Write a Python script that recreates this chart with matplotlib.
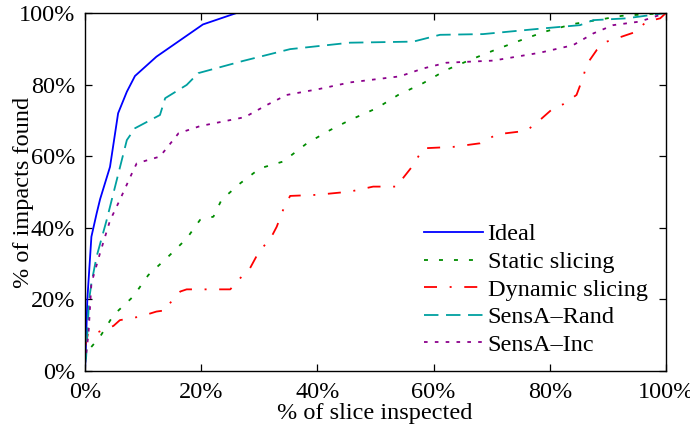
import matplotlib
matplotlib.use("Agg")
import matplotlib.pyplot as plt
from matplotlib.ticker import FuncFormatter

plt.rcParams['font.family'] = ['Liberation Serif', 'DejaVu Serif']

# curves: % of slice inspected vs % of impacts found
ideal_x = [0, 0.1, 0.4, 1.1, 2.0, 2.6, 4.3, 5.7, 7.2, 8.6, 12.3, 20.3, 26.1, 100]
ideal_y = [0, 4, 20, 37.5, 44, 48, 57, 72, 78, 82.4, 87.8, 96.8, 100, 100]

static_x = [0, 0.4, 2.6, 4.9, 8.3, 10.9, 14.3, 17.5, 19.8, 22.1, 23.5, 26.7, 30.1,
            34.1, 38.2, 42.2, 45.6, 50.2, 53.9, 58.2, 62.2, 66.6, 70.9, 75.2,
            79.2, 84.0, 92.4, 100]
static_y = [3, 5.4, 9.6, 15.6, 20.8, 26.8, 31.9, 37, 42.2, 43.1, 47.8, 52.4, 56.6,
            58.5, 63.6, 67.3, 70.1, 73.4, 77.1, 80.4, 84.1, 87.1, 89.9, 92.5,
            94.8, 96.9, 99.2, 100]

dynamic_x = [0, 0.6, 2.0, 4.9, 6.0, 9.5, 12.3, 14.1, 14.6, 16.4, 17.5, 25.0, 26.7,
             28.4, 29.8, 32.1, 33.0, 34.1, 35.3, 39.9, 45.6, 49.6, 53.9, 54.5,
             56.5, 58.2, 63.4, 68.0, 70.9, 76.0, 78.3, 80.6, 82.3, 84.6, 85.8,
             86.3, 88.1, 89.8, 91.5, 94.4, 96.7, 99.0, 100]
dynamic_y = [6.8, 11, 10.7, 12.6, 14.2, 15.2, 16.6, 17, 18.9, 22.2, 22.8, 22.8, 25.9,
             28.7, 32.9, 37.5, 40.3, 45, 48.9, 49.2, 50.1, 51.5, 51.5, 53.4,
             57.5, 62.2, 62.6, 63.6, 66.1, 67.1, 70.1, 73.4, 74.5, 77.1, 82.3,
             85.5, 89.7, 92, 92.9, 94.5, 97.6, 98.5, 100]

rand_x = [0, 0.2, 0.7, 1.1, 2.0, 3.7, 4.6, 7.2, 8.6, 12.9, 13.8, 17.5, 19.5, 27.2,
          35.3, 45.6, 56.5, 61.1, 68.5, 78.9, 85.2, 87.5, 93.2, 100]
rand_y = [2, 4, 19.8, 24.5, 32, 42, 47.8, 64.5, 67.8, 71.5, 76.2, 79.9, 83.2, 86.6,
          89.9, 91.7, 92, 93.9, 94.1, 95.7, 96.6, 98, 98.5, 100]

inc_x = [0, 0.6, 1.1, 2.6, 4.3, 6.0, 8.3, 8.9, 12.9, 16.1, 19.8, 27.5, 31.3, 34.7,
         40.4, 45.6, 54.2, 58.2, 62.2, 70.3, 78.3, 84.0, 87.5, 90.9, 95.5, 100]
inc_y = [2, 10.5, 24.5, 33, 42, 47.8, 56, 58, 59.9, 66.4, 68.4, 70.9, 74.3, 77.1,
         78.8, 80.6, 82.3, 84.5, 86.1, 86.7, 88.9, 91, 94.3, 96.6, 97.6, 100]

fig = plt.figure(figsize=(6.9, 4.34), dpi=100)
ax = fig.add_axes([0.1232, 0.1452, 0.842, 0.8249])

ax.plot(ideal_x, ideal_y, color='#0000ff', lw=1.3, label='Ideal')
ax.plot(static_x, static_y, color='#008c00', lw=1.3, dashes=(2.2, 6.1), label='Static slicing')
ax.plot(dynamic_x, dynamic_y, color='#ff0000', lw=1.3, dashes=(7.2, 7.0, 1.1, 7.0), label='Dynamic slicing')
ax.plot(rand_x, rand_y, color='#00a0a0', lw=1.3, dashes=(8.0, 4.2), label='SensA\u2013Rand')
ax.plot(inc_x, inc_y, color='#8b008b', lw=1.3, dashes=(2.0, 4.0), label='SensA\u2013Inc')

ax.set_xlim(0, 100)
ax.set_ylim(0, 100)
ticks = [0, 20, 40, 60, 80, 100]
ax.set_xticks(ticks)
ax.set_yticks(ticks)
pct = FuncFormatter(lambda v, p: '%d%%' % v)
ax.xaxis.set_major_formatter(pct)
ax.yaxis.set_major_formatter(pct)
ax.tick_params(direction='in', length=5, width=0.9, top=True, right=True,
               labelsize=17.5)
ax.tick_params(axis='x', pad=8)
ax.tick_params(axis='y', pad=7)
for s in ax.spines.values():
    s.set_linewidth(1.0)

ax.set_xlabel('% of slice inspected', fontsize=17.5)
ax.set_ylabel('% of impacts found', fontsize=17.5)
ax.xaxis.set_label_coords(0.499, -0.09)
ax.yaxis.set_label_coords(-0.088, 0.5)

leg = ax.legend(loc='lower right', bbox_to_anchor=(0.985, 0.015), frameon=False,
                fontsize=17.5, handlelength=2.4, handletextpad=0.2,
                labelspacing=0.23, borderaxespad=0)

fig.savefig('out.png', dpi=100)
